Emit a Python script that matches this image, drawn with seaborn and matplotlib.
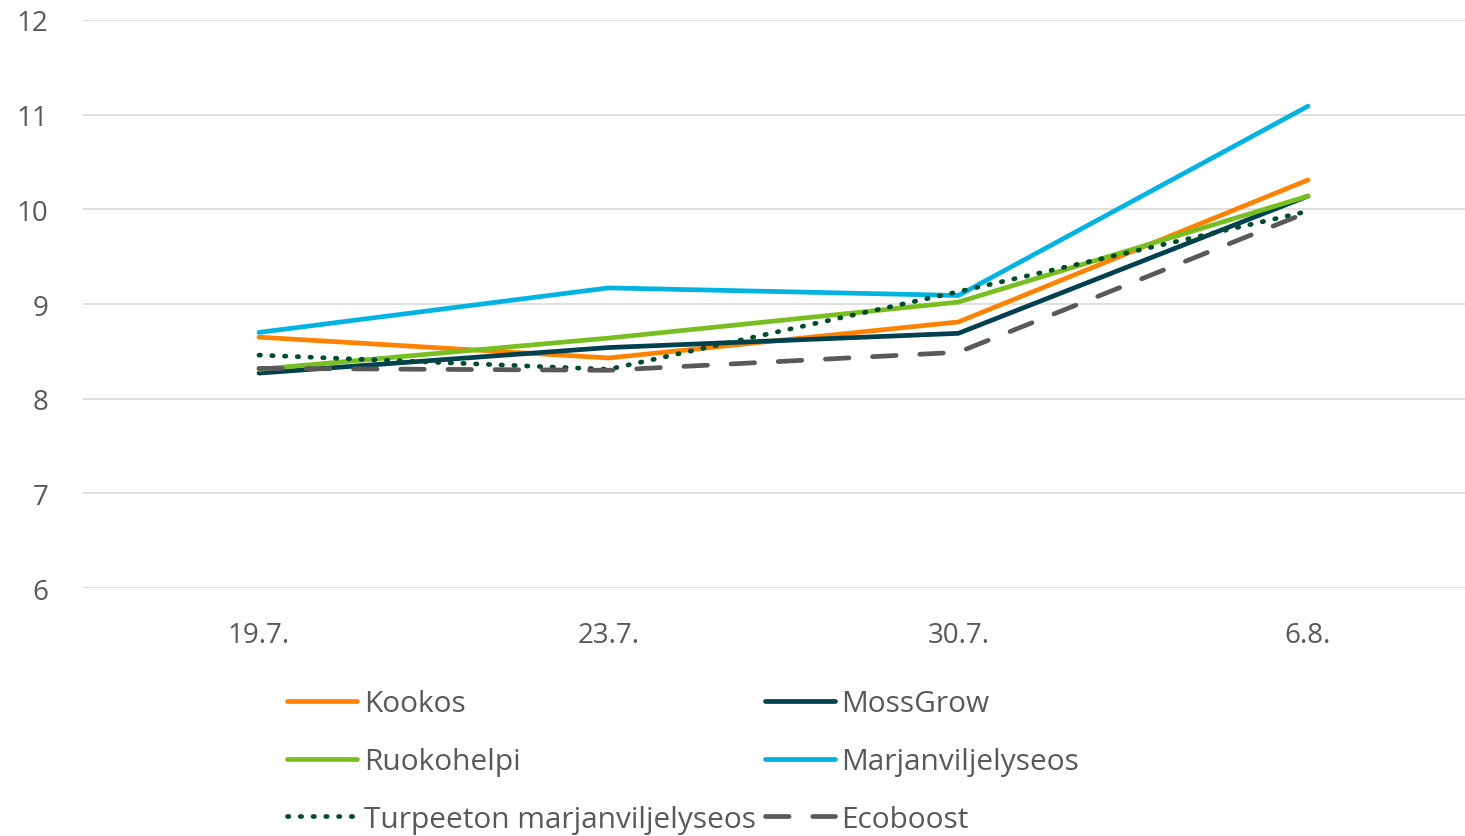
import matplotlib
matplotlib.use("Agg")
import matplotlib.pyplot as plt
import pandas as pd
import seaborn as sns

# mittauspäivät ja sarjat
dates = ["19.7.", "23.7.", "30.7.", "6.8."]
kookos = [8.65, 8.43, 8.81, 10.31]
mossgrow = [8.27, 8.54, 8.69, 10.14]
ruokohelpi = [8.31, 8.64, 9.02, 10.14]
marjan = [8.70, 9.17, 9.09, 11.09]
turpeeton = [8.46, 8.31, 9.13, 9.98]
ecoboost = [8.32, 8.30, 8.49, 9.97]

series = {
    "Kookos": kookos,
    "MossGrow": mossgrow,
    "Ruokohelpi": ruokohelpi,
    "Marjanviljelyseos": marjan,
    "Turpeeton marjanviljelyseos": turpeeton,
    "Ecoboost": ecoboost,
}
colors = {
    "Kookos": "#FF8200",
    "MossGrow": "#00404F",
    "Ruokohelpi": "#78BE20",
    "Marjanviljelyseos": "#00B3E0",
    "Turpeeton marjanviljelyseos": "#004C2C",
    "Ecoboost": "#595959",
}
dashes = {
    "Kookos": "",
    "MossGrow": "",
    "Ruokohelpi": "",
    "Marjanviljelyseos": "",
    "Turpeeton marjanviljelyseos": (0.3, 2.4),
    "Ecoboost": (5, 5),
}

rows = []
for name, vals in series.items():
    for d, v in zip(dates, vals):
        rows.append({"pvm": d, "arvo": v, "sarja": name})
df = pd.DataFrame(rows)

sns.set_style("white")
plt.rcParams["font.family"] = ["Open Sans", "DejaVu Sans"]

fig = plt.figure(figsize=(14.65, 8.37), dpi=100)
ax = fig.add_axes([83 / 1465, 1 - 589 / 837, 1 - 83 / 1465, (589 - 21) / 837])

sns.lineplot(data=df, x="pvm", y="arvo", hue="sarja", style="sarja",
             palette=colors, dashes=dashes, linewidth=3.4, sort=False,
             ax=ax, legend=True)
for line in ax.get_lines():
    line.set_solid_capstyle("round")
    line.set_dash_capstyle("round")

# kategoriat kohdissa 259, 608, 958, 1308 px
step = 349.67
ax.set_xlim(-(259 - 83) / step, 3 + (1465 - 1308) / step)
ax.set_ylim(6, 12)
ax.set_yticks(range(6, 13))
ax.yaxis.grid(True, color="#D9D9D9", linewidth=1.2)
ax.set_axisbelow(True)
for s in ax.spines.values():
    s.set_visible(False)
ax.tick_params(axis="both", length=0, labelsize=20, labelcolor="#595959")
ax.tick_params(axis="y", pad=25)
ax.tick_params(axis="x", pad=24)
ax.set_xlabel("")
ax.set_ylabel("")

handles, labels = ax.get_legend_handles_labels()
ax.get_legend().remove()
# rivijärjestys kahdessa sarakkeessa
order = [0, 2, 4, 1, 3, 5]
handles = [handles[i] for i in order]
labels = [labels[i] for i in order]
leg = fig.legend(handles, labels, ncol=2, loc="upper left",
                 bbox_to_anchor=(287 / 1465, 1 - 690 / 837),
                 frameon=False, fontsize=21.5, handlelength=2.35,
                 handletextpad=0.22, columnspacing=0.3, labelspacing=0.97,
                 borderpad=0, borderaxespad=0, labelcolor="#595959")
for lh in leg.get_lines():
    lh.set_linewidth(3.4)

fig.savefig("out.png", dpi=100)
